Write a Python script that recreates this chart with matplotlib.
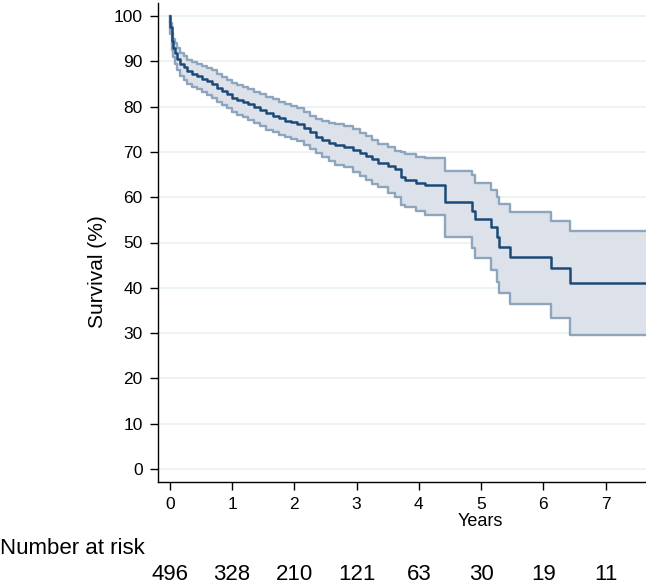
import numpy as np
import matplotlib
matplotlib.use("Agg")
import matplotlib.pyplot as plt
from matplotlib.transforms import blended_transform_factory

# Kaplan-Meier estimate (years, survival %)
years = [0.00, 0.01, 0.03, 0.05, 0.08, 0.12, 0.17, 0.22, 0.28, 0.35,
         0.43, 0.52, 0.60, 0.68, 0.76, 0.84, 0.92, 1.00, 1.08, 1.17,
         1.26, 1.36, 1.45, 1.55, 1.65, 1.75, 1.85, 1.95, 2.05, 2.15,
         2.25, 2.35, 2.45, 2.55, 2.65, 2.80, 2.95, 3.05, 3.15, 3.25,
         3.35, 3.50, 3.62, 3.72, 3.78, 3.95, 4.10, 4.42, 4.86, 4.91,
         5.16, 5.26, 5.29, 5.46, 6.12, 6.43, 7.65]
survival = [100, 97.5, 94.5, 93.0, 91.8, 90.6, 89.5, 88.7, 87.8, 87.2,
            86.7, 86.2, 85.6, 85.0, 84.2, 83.5, 82.7, 82.0, 81.5, 81.1,
            80.6, 79.9, 79.3, 78.5, 78.0, 77.4, 76.9, 76.6, 76.2, 75.4,
            74.4, 73.4, 72.7, 72.0, 71.5, 71.2, 70.4, 69.8, 69.2, 68.4,
            67.5, 66.8, 66.3, 64.4, 63.8, 63.1, 62.8, 58.9, 57.0, 55.2,
            53.4, 51.3, 49.1, 46.9, 44.4, 41.1, 41.1]
upper = [100, 98.5, 96.2, 95.0, 94.0, 92.9, 91.9, 91.2, 90.4, 89.9,
         89.5, 89.0, 88.5, 88.0, 87.2, 86.6, 85.9, 85.2, 84.8, 84.4,
         83.9, 83.3, 82.8, 82.1, 81.6, 81.0, 80.6, 80.2, 79.7, 78.9,
         78.0, 77.3, 76.8, 76.4, 76.1, 75.8, 75.0, 74.2, 73.5, 72.6,
         71.8, 71.0, 70.3, 70.0, 69.5, 68.9, 68.6, 65.7, 64.9, 63.2,
         61.6, 60.1, 58.6, 56.8, 54.7, 52.6, 52.6]
lower = [100, 96.0, 92.5, 91.0, 89.5, 88.2, 86.8, 85.9, 85.0, 84.4,
         83.8, 83.2, 82.6, 81.9, 81.0, 80.3, 79.6, 78.8, 78.2, 77.7,
         77.1, 76.4, 75.7, 74.9, 74.3, 73.7, 73.2, 72.9, 72.4, 71.5,
         70.6, 69.8, 68.8, 68.0, 67.2, 66.6, 65.6, 64.6, 63.9, 63.0,
         62.2, 61.0, 60.0, 58.2, 57.8, 57.0, 56.0, 51.3, 48.7, 46.5,
         43.9, 41.3, 38.8, 36.4, 33.3, 29.6, 29.6]

risk_years = [0, 1, 2, 3, 4, 5, 6, 7]
at_risk = [496, 328, 210, 121, 63, 30, 19, 11]

plt.rcParams['font.family'] = ['Liberation Sans', 'DejaVu Sans']

fig = plt.figure(figsize=(6.46, 5.84), dpi=100)
ax = fig.add_axes([158 / 646, 1 - 482 / 584, 488 / 646, 479 / 584])

# confidence band
ax.fill_between(years, lower, upper, step='post', color='#dde2ea', lw=0)
ax.step(years, upper, where='post', color='#8ea6bd', lw=1.7)
ax.step(years, lower, where='post', color='#8ea6bd', lw=1.7)
ax.step(years, survival, where='post', color='#1c4a78', lw=1.8)

ax.set_xlim(-0.19, 7.65)
ax.set_ylim(-2.9, 102.9)
ax.set_xticks(risk_years)
ax.set_yticks(np.arange(0, 101, 10))
ax.yaxis.grid(True, color='#e8f1f3', lw=1.2)
ax.set_axisbelow(True)

for side in ['top', 'right']:
    ax.spines[side].set_visible(False)
for side in ['left', 'bottom']:
    ax.spines[side].set_linewidth(1.0)
ax.tick_params(direction='out', length=6, width=1.0, labelsize=12.5, pad=5)

fig.text(97 / 646, 1 - 272 / 584, 'Survival (%)', rotation=90,
         ha='center', va='center', fontsize=15)
fig.text(480 / 646, 1 - 522 / 584, 'Years', ha='center', va='center', fontsize=13)

# number at risk table
fig.text(0.0, 1 - 549 / 584, 'Number at risk', ha='left', va='center', fontsize=16)
trans = blended_transform_factory(ax.transData, fig.transFigure)
for yr, n in zip(risk_years, at_risk):
    ax.text(yr, 1 - 575 / 584, str(n), transform=trans, ha='center',
            va='center', fontsize=16, clip_on=False)

fig.savefig('out.png', dpi=100)
